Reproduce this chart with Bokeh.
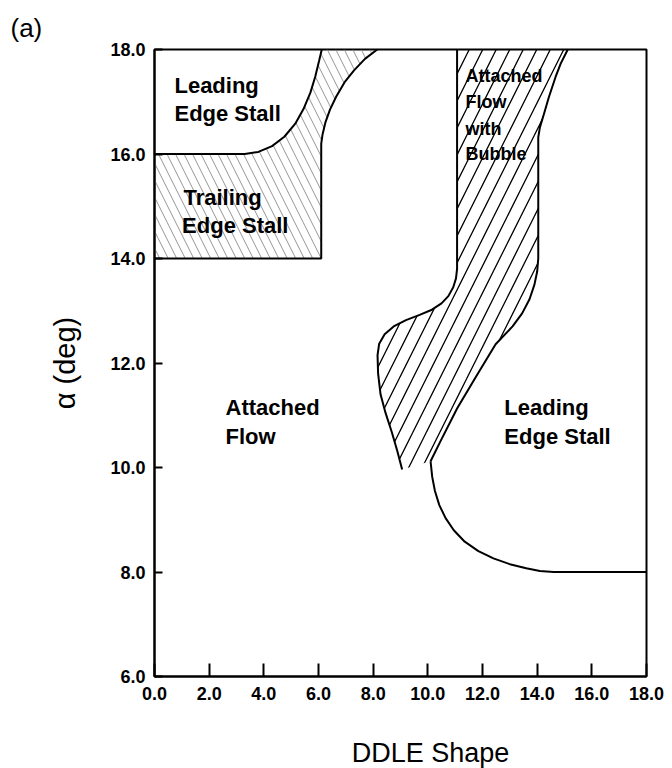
from bokeh.plotting import figure
from bokeh.layouts import column
from bokeh.models import ColumnDataSource, Range1d, FixedTicker, PrintfTickFormatter
from bokeh.core.properties import value
from bokeh.embed import file_html
from bokeh.resources import INLINE

# ---- axis ticks ----
x_ticks = [0, 2, 4, 6, 8, 10, 12, 14, 16, 18]
y_ticks = [6, 8, 10, 12, 14, 16, 18]

# ---- stall-regime boundaries (x = DDLE shape, y = alpha in deg) ----
# upper-left leading-edge stall boundary
le_upper_x = [0.0, 3.3, 3.8, 4.3, 4.75, 5.15, 5.45, 5.7, 5.88, 6.02, 6.12]
le_upper_y = [16.0, 16.0, 16.04, 16.15, 16.33, 16.58, 16.86, 17.17, 17.48, 17.78, 18.0]

# trailing-edge stall box: bottom edge and right edge of its transition band
te_edge_x = [0.0, 6.1, 6.1, 6.15, 6.25, 6.42, 6.65, 6.95, 7.3, 7.7, 8.15]
te_edge_y = [14.0, 14.0, 16.2, 16.38, 16.6, 16.85, 17.1, 17.37, 17.6, 17.82, 18.0]

# attached flow with bubble: left and right boundaries
bubble_left_x = [11.07, 11.07, 11.03, 10.93, 10.75, 10.5, 10.15, 9.7, 9.2, 8.75,
                 8.42, 8.22, 8.16, 8.18, 8.27, 8.45, 8.68, 8.88, 9.06]
bubble_left_y = [18.0, 13.8, 13.62, 13.45, 13.28, 13.14, 13.02, 12.92, 12.82, 12.7,
                 12.55, 12.37, 12.15, 11.8, 11.4, 11.05, 10.68, 10.32, 9.96]
bubble_right_x = [15.12, 14.86, 14.67, 14.43, 14.25, 14.1, 14.04, 14.04, 14.0, 13.9,
                  13.72, 13.45, 13.1, 12.48, 11.81, 11.08, 10.46, 10.1]
bubble_right_y = [18.0, 17.73, 17.47, 17.09, 16.77, 16.51, 16.32, 14.0, 13.75, 13.5,
                  13.22, 12.95, 12.7, 12.36, 11.78, 11.14, 10.5, 10.12]

# lower-right leading-edge stall boundary
le_lower_x = [10.1, 10.16, 10.26, 10.42, 10.65, 10.95, 11.35, 11.85, 12.4, 13.0,
              13.6, 14.1, 14.6, 18.0]
le_lower_y = [10.12, 9.82, 9.55, 9.28, 9.03, 8.8, 8.58, 8.4, 8.26, 8.15,
              8.07, 8.02, 8.0, 8.0]

# ---- region labels ----
big_text = ["Leading", "Edge Stall", "Trailing", "Edge Stall",
            "Attached", "Flow", "Leading", "Edge Stall"]
big_x = [0.73, 0.73, 1.06, 1.01, 2.6, 2.6, 12.8, 12.8]
big_y = [17.31, 16.77, 15.17, 14.63, 11.14, 10.6, 11.14, 10.6]

small_text = ["Attached", "Flow", "with", "Bubble"]
small_x = [11.38, 11.38, 11.38, 11.38]
small_y = [17.5, 16.99, 16.48, 16.0]

x_title = "DDLE Shape"
y_title = "\u03b1 (deg)"
panel_tag = "(a)"

FONT = "Liberation Sans"

p = figure(width=672, height=728, title=panel_tag,
           x_range=Range1d(0, 18), y_range=Range1d(6, 18),
           output_backend="svg", toolbar_location=None,
           min_border_left=154, min_border_right=26,
           min_border_top=49, min_border_bottom=52)

p.background_fill_color = "white"
p.border_fill_color = "white"
p.grid.visible = False
p.outline_line_color = "black"
p.outline_line_width = 2
p.outline_line_alpha = 1.0

# panel tag in the top-left corner
p.title.align = "left"
p.title.offset = -144
p.title.standoff = 13
p.title.text_font = FONT
p.title.text_font_style = "normal"
p.title.text_font_size = "26px"
p.title.text_color = "black"

# trailing-edge stall region + its transition band (light diagonal hatch)
te_poly_x = te_edge_x + le_upper_x[::-1]
te_poly_y = te_edge_y + le_upper_y[::-1]
p.patch(te_poly_x, te_poly_y, fill_alpha=0, line_color=None,
        hatch_pattern="\\", hatch_scale=17, hatch_color="#8a8a8a",
        hatch_weight=1, hatch_alpha=0.9)

# bubble band (solid diagonal hatch)
bub_poly_x = bubble_left_x + bubble_right_x[::-1]
bub_poly_y = bubble_left_y + bubble_right_y[::-1]
p.patch(bub_poly_x, bub_poly_y, fill_alpha=0, line_color=None,
        hatch_pattern="/", hatch_scale=27, hatch_color="black",
        hatch_weight=1.3)

# boundary lines
for xs, ys in [(le_upper_x, le_upper_y), (te_edge_x, te_edge_y),
               (bubble_left_x, bubble_left_y), (bubble_right_x, bubble_right_y),
               (le_lower_x, le_lower_y)]:
    p.line(xs, ys, line_color="black", line_width=2)

# region labels
big_src = ColumnDataSource(dict(x=big_x, y=big_y, text=big_text))
p.text("x", "y", text="text", source=big_src, text_font=value(FONT),
       text_font_style="bold", text_font_size="22px",
       text_baseline="alphabetic", text_align="left", text_color="black")
small_src = ColumnDataSource(dict(x=small_x, y=small_y, text=small_text))
p.text("x", "y", text="text", source=small_src, text_font=value(FONT),
       text_font_style="bold", text_font_size="18px",
       text_baseline="alphabetic", text_align="left", text_color="black")

# axes
for ax in (p.xaxis[0], p.yaxis[0]):
    ax.formatter = PrintfTickFormatter(format="%.1f")
    ax.axis_line_width = 2
    ax.axis_line_color = "black"
    ax.major_tick_line_width = 2
    ax.major_tick_line_color = "black"
    ax.major_tick_out = 0
    ax.minor_tick_line_color = None
    ax.major_label_text_font = FONT
    ax.major_label_text_font_style = "bold"
    ax.major_label_text_font_size = "18px"
    ax.major_label_text_color = "black"

p.xaxis.ticker = FixedTicker(ticks=x_ticks)
p.yaxis.ticker = FixedTicker(ticks=y_ticks)
p.xaxis.major_tick_in = 13
p.yaxis.major_tick_in = 8
p.xaxis.major_label_standoff = 10
p.yaxis.major_label_standoff = 9

p.yaxis.axis_label = y_title
p.yaxis.axis_label_text_font = FONT
p.yaxis.axis_label_text_font_style = "normal"
p.yaxis.axis_label_text_font_size = "29px"
p.yaxis.axis_label_text_color = "black"
p.yaxis.axis_label_standoff = 26

# strip underneath carrying the x-axis caption (sits a little left of the frame centre)
cap = figure(width=672, height=40, x_range=Range1d(0, 672), y_range=Range1d(0, 40),
             output_backend="svg", toolbar_location=None,
             x_axis_type=None, y_axis_type=None,
             min_border_left=0, min_border_right=0,
             min_border_top=0, min_border_bottom=0)
cap.grid.visible = False
cap.outline_line_color = None
cap.background_fill_color = "white"
cap.border_fill_color = "white"
cap.text(x=[377], y=[16], text=[x_title], text_font=value(FONT),
         text_font_size="27px", text_align="center",
         text_baseline="alphabetic", text_color="black")

layout = column(p, cap, spacing=0)
open("out.html", "w").write(file_html(layout, INLINE))
